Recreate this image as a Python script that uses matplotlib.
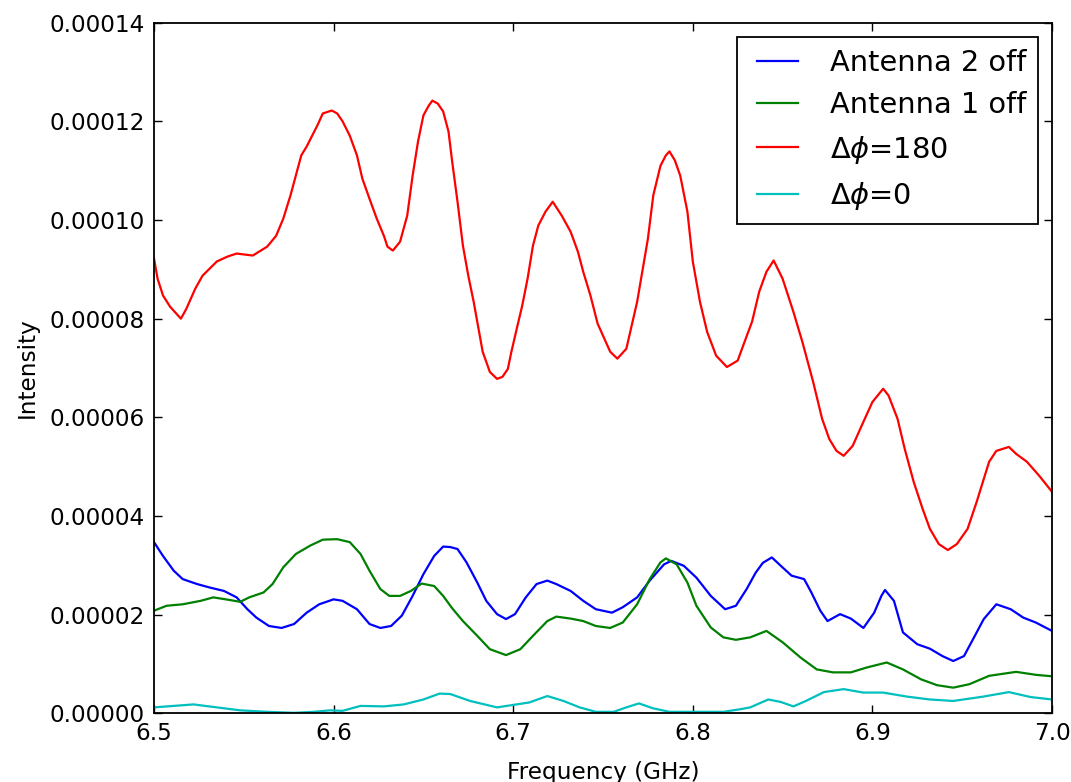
import matplotlib
matplotlib.use("Agg")
import matplotlib.pyplot as plt
from matplotlib.ticker import FormatStrFormatter, MultipleLocator

# Intensity spectra (values in units of 1e-5)
freq_ant2_off = [6.500, 6.505, 6.511, 6.516, 6.524, 6.531, 6.539, 6.546, 6.552, 6.557,
                 6.564, 6.571, 6.578, 6.585, 6.592, 6.600, 6.605, 6.613, 6.620, 6.626,
                 6.632, 6.638, 6.644, 6.650, 6.656, 6.661, 6.665, 6.669, 6.674, 6.680,
                 6.685, 6.691, 6.696, 6.701, 6.707, 6.713, 6.719, 6.724, 6.732, 6.739,
                 6.746, 6.755, 6.761, 6.769, 6.776, 6.784, 6.788, 6.795, 6.802, 6.810,
                 6.818, 6.824, 6.830, 6.835, 6.839, 6.844, 6.849, 6.855, 6.862, 6.866,
                 6.871, 6.875, 6.882, 6.888, 6.895, 6.901, 6.905, 6.907, 6.912, 6.917,
                 6.925, 6.932, 6.939, 6.945, 6.951, 6.956, 6.962, 6.969, 6.977, 6.984,
                 6.991, 7.000]
int_ant2_off = [3.47, 3.19, 2.89, 2.72, 2.62, 2.55, 2.48, 2.35, 2.11, 1.94,
                1.77, 1.73, 1.81, 2.04, 2.21, 2.31, 2.28, 2.11, 1.81, 1.73,
                1.77, 1.98, 2.38, 2.82, 3.19, 3.38, 3.37, 3.33, 3.06, 2.65,
                2.28, 2.01, 1.91, 2.01, 2.35, 2.62, 2.69, 2.62, 2.48, 2.28,
                2.11, 2.04, 2.15, 2.35, 2.69, 3.02, 3.09, 2.99, 2.75, 2.38,
                2.11, 2.18, 2.52, 2.85, 3.05, 3.16, 2.99, 2.79, 2.72, 2.45,
                2.08, 1.87, 2.01, 1.92, 1.73, 2.04, 2.38, 2.50, 2.28, 1.64,
                1.40, 1.31, 1.16, 1.06, 1.16, 1.50, 1.91, 2.21, 2.11, 1.94,
                1.84, 1.67]

freq_ant1_off = [6.500, 6.507, 6.516, 6.526, 6.533, 6.540, 6.548, 6.553, 6.561, 6.566,
                 6.572, 6.579, 6.587, 6.594, 6.602, 6.609, 6.615, 6.620, 6.626, 6.631,
                 6.637, 6.643, 6.649, 6.656, 6.661, 6.666, 6.672, 6.680, 6.687, 6.696,
                 6.704, 6.711, 6.719, 6.724, 6.732, 6.739, 6.746, 6.754, 6.761, 6.769,
                 6.776, 6.782, 6.785, 6.791, 6.797, 6.802, 6.810, 6.817, 6.824, 6.832,
                 6.841, 6.850, 6.860, 6.869, 6.878, 6.888, 6.897, 6.908, 6.917, 6.927,
                 6.936, 6.945, 6.954, 6.965, 6.980, 6.991, 7.000]
int_ant1_off = [2.08, 2.18, 2.21, 2.28, 2.35, 2.31, 2.26, 2.35, 2.45, 2.62,
                2.96, 3.23, 3.40, 3.52, 3.53, 3.47, 3.23, 2.89, 2.52, 2.38,
                2.38, 2.48, 2.63, 2.58, 2.38, 2.13, 1.87, 1.57, 1.30, 1.18,
                1.30, 1.57, 1.87, 1.96, 1.92, 1.87, 1.77, 1.73, 1.84, 2.21,
                2.72, 3.06, 3.14, 3.02, 2.65, 2.18, 1.74, 1.54, 1.49, 1.54,
                1.67, 1.44, 1.13, 0.89, 0.83, 0.83, 0.93, 1.03, 0.89, 0.69,
                0.57, 0.52, 0.59, 0.76, 0.84, 0.78, 0.75]

freq_dphi180 = [6.500, 6.502, 6.505, 6.509, 6.515, 6.518, 6.523, 6.527, 6.535, 6.541,
                6.546, 6.555, 6.563, 6.568, 6.572, 6.576, 6.580, 6.582, 6.585, 6.591,
                6.594, 6.599, 6.602, 6.605, 6.609, 6.613, 6.616, 6.620, 6.624, 6.628,
                6.630, 6.633, 6.637, 6.641, 6.644, 6.647, 6.650, 6.653, 6.655, 6.658,
                6.661, 6.664, 6.666, 6.669, 6.672, 6.675, 6.678, 6.683, 6.687, 6.691,
                6.694, 6.697, 6.699, 6.702, 6.705, 6.708, 6.711, 6.714, 6.718, 6.722,
                6.727, 6.732, 6.736, 6.739, 6.743, 6.747, 6.754, 6.758, 6.763, 6.769,
                6.775, 6.778, 6.782, 6.785, 6.787, 6.790, 6.793, 6.797, 6.800, 6.804,
                6.808, 6.813, 6.819, 6.825, 6.828, 6.833, 6.837, 6.841, 6.845, 6.850,
                6.856, 6.861, 6.867, 6.872, 6.876, 6.880, 6.884, 6.889, 6.895, 6.900,
                6.906, 6.909, 6.914, 6.918, 6.923, 6.928, 6.932, 6.937, 6.942, 6.947,
                6.953, 6.958, 6.962, 6.965, 6.969, 6.976, 6.980, 6.986, 6.993, 7.000]
int_dphi180 = [9.22, 8.81, 8.47, 8.24, 8.00, 8.20, 8.61, 8.87, 9.16, 9.26,
               9.32, 9.28, 9.46, 9.68, 10.03, 10.50, 11.04, 11.31, 11.49, 11.92,
               12.16, 12.22, 12.16, 12.00, 11.71, 11.31, 10.84, 10.43, 10.03, 9.68,
               9.46, 9.38, 9.56, 10.09, 10.90, 11.59, 12.12, 12.32, 12.42, 12.36,
               12.20, 11.79, 11.19, 10.37, 9.48, 8.87, 8.34, 7.33, 6.92, 6.78,
               6.82, 6.98, 7.33, 7.80, 8.26, 8.81, 9.48, 9.89, 10.17, 10.37,
               10.09, 9.76, 9.36, 8.95, 8.47, 7.90, 7.33, 7.19, 7.39, 8.34,
               9.62, 10.50, 11.10, 11.31, 11.39, 11.21, 10.90, 10.17, 9.16, 8.34,
               7.73, 7.25, 7.02, 7.15, 7.45, 7.94, 8.55, 8.95, 9.18, 8.81,
               8.14, 7.53, 6.72, 5.97, 5.56, 5.32, 5.22, 5.42, 5.91, 6.31,
               6.58, 6.44, 5.97, 5.36, 4.69, 4.14, 3.74, 3.43, 3.31, 3.43,
               3.74, 4.28, 4.75, 5.10, 5.32, 5.40, 5.26, 5.10, 4.81, 4.49]

freq_dphi0 = [6.500, 6.511, 6.522, 6.535, 6.548, 6.563, 6.578, 6.589, 6.598, 6.605,
              6.615, 6.628, 6.639, 6.650, 6.659, 6.665, 6.676, 6.691, 6.700, 6.709,
              6.719, 6.728, 6.737, 6.746, 6.756, 6.763, 6.770, 6.778, 6.787, 6.802,
              6.817, 6.826, 6.832, 6.842, 6.849, 6.856, 6.863, 6.873, 6.884, 6.895,
              6.906, 6.919, 6.932, 6.945, 6.962, 6.976, 6.988, 7.000]
int_dphi0 = [0.12, 0.15, 0.18, 0.12, 0.06, 0.03, 0.01, 0.03, 0.06, 0.05,
             0.15, 0.14, 0.18, 0.28, 0.40, 0.39, 0.25, 0.12, 0.17, 0.22,
             0.35, 0.25, 0.12, 0.03, 0.03, 0.12, 0.20, 0.10, 0.03, 0.03,
             0.03, 0.08, 0.12, 0.28, 0.23, 0.14, 0.25, 0.43, 0.49, 0.42,
             0.42, 0.34, 0.28, 0.25, 0.34, 0.43, 0.33, 0.28]

series = [
    (freq_ant2_off, int_ant2_off, "Antenna 2 off", "b"),
    (freq_ant1_off, int_ant1_off, "Antenna 1 off", "g"),
    (freq_dphi180, int_dphi180, r"$\Delta\phi$=180", "r"),
    (freq_dphi0, int_dphi0, r"$\Delta\phi$=0", "c"),
]
scale = 1e-5

x_ticks = [6.5, 6.6, 6.7, 6.8, 6.9, 7.0]

W, H = 1071, 782
fig = plt.figure(figsize=(W / 100, H / 100), dpi=100)
ax = fig.add_axes([154 / W, (H - 713.3) / H, (1052 - 154) / W, (713.3 - 22.7) / H])

for f, v, label, color in series:
    ax.plot(f, [val * scale for val in v], color=color, lw=1.6, label=label)

ax.set_xlim(6.5, 7.0)
ax.set_ylim(0, 0.00014)
ax.set_xticks(x_ticks)
ax.xaxis.set_major_formatter(FormatStrFormatter("%.1f"))
ax.yaxis.set_major_locator(MultipleLocator(0.00002))
ax.yaxis.set_major_formatter(FormatStrFormatter("%.5f"))

ax.tick_params(direction="in", length=5.6, width=1.0, top=True, right=True,
               labelsize=16.7, pad=6.5)
for sp in ax.spines.values():
    sp.set_linewidth(1.3)

ax.set_xlabel("Frequency (GHz)", fontsize=16.7, labelpad=11)
ax.set_ylabel("Intensity", fontsize=16.7, labelpad=8)

leg = ax.legend(loc="upper right", fontsize=20.8, fancybox=False, framealpha=1,
                edgecolor="black", numpoints=2, handlelength=2.0, handletextpad=0.8,
                labelspacing=0.5, borderpad=0.4, borderaxespad=0.5)
leg.get_frame().set_linewidth(1.3)

fig.savefig("out.png", dpi=100)
